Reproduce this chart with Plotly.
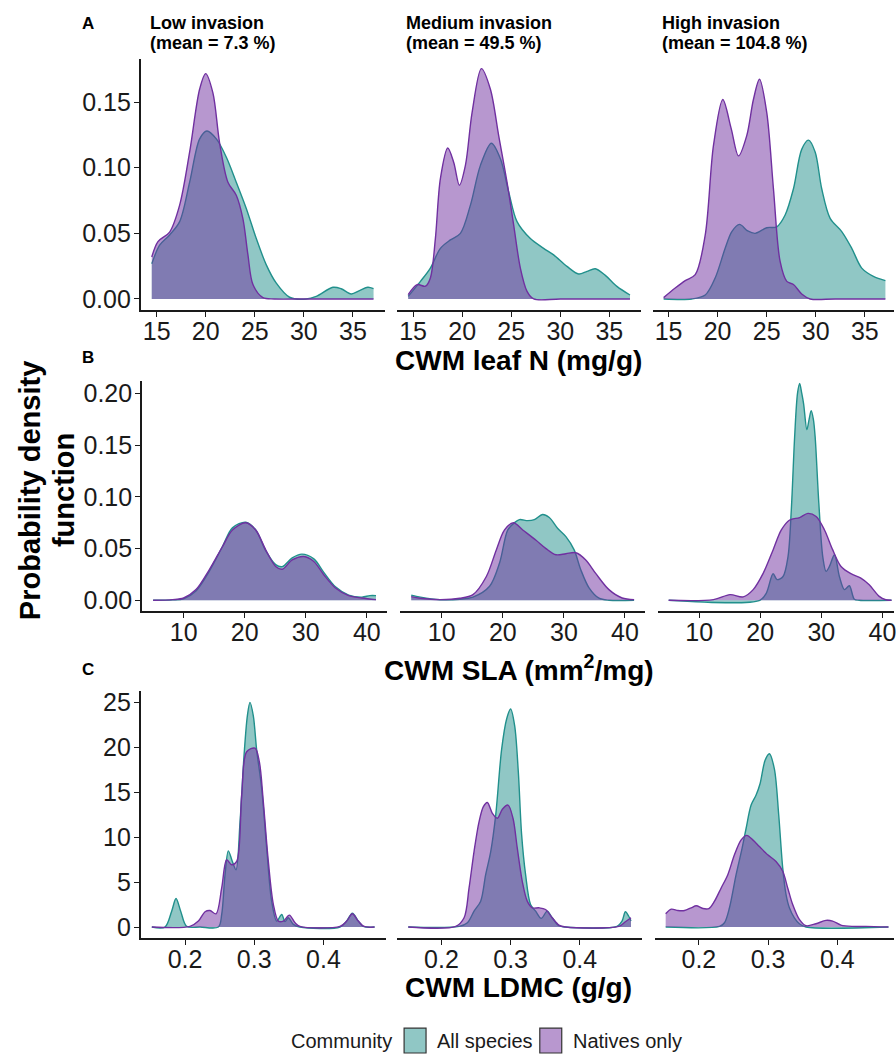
import plotly.graph_objects as go

# ---------------- DATA ----------------
# Row A: CWM leaf N (mg/g)
leafn_low_all_x = [14.5, 15.3, 16.32, 17.34, 18.36, 19.38, 20.12, 21.08, 22.1, 23.11, 24.13, 25.15, 26.17, 27.19, 28.54, 30.24, 31.26, 32.96, 33.8, 34.83, 35.67, 36.52, 37.1]
leafn_low_all_y = [0.0268, 0.041, 0.0488, 0.0589, 0.089, 0.122, 0.128, 0.122, 0.108, 0.089, 0.069, 0.046, 0.026, 0.012, 0.0013, 0.0, 0.002, 0.0089, 0.0078, 0.0038, 0.0064, 0.0089, 0.0078]
leafn_low_nat_x = [14.5, 15.13, 16.32, 17.34, 18.36, 19.38, 19.99, 20.73, 21.41, 22.26, 23.11, 23.79, 24.3, 24.81, 25.83, 27.0, 30.0, 37.1]
leafn_low_nat_y = [0.032, 0.0437, 0.051, 0.0715, 0.112, 0.160, 0.1717, 0.157, 0.119, 0.089, 0.079, 0.061, 0.0336, 0.011, 0.001, 0.0, 0.0, 0.0]

leafn_med_all_x = [14.5, 15.75, 16.76, 17.78, 18.8, 19.82, 20.84, 21.86, 22.98, 23.89, 24.74, 25.59, 26.95, 28.3, 29.32, 30.68, 31.87, 32.72, 33.57, 34.59, 35.77, 37.1]
leafn_med_all_y = [0.002, 0.0134, 0.0235, 0.0386, 0.045, 0.05, 0.0715, 0.1018, 0.1187, 0.107, 0.0816, 0.0589, 0.046, 0.0386, 0.0336, 0.0248, 0.019, 0.021, 0.023, 0.018, 0.0096, 0.003]
leafn_med_nat_x = [14.5, 15.41, 16.26, 16.76, 17.27, 17.78, 18.53, 19.14, 19.72, 20.33, 21.01, 21.96, 22.87, 23.72, 24.57, 25.25, 25.93, 26.61, 27.29, 30.0, 37.1]
leafn_med_nat_y = [0.0033, 0.0109, 0.0097, 0.016, 0.046, 0.0917, 0.115, 0.104, 0.0867, 0.1018, 0.142, 0.1755, 0.16, 0.1245, 0.089, 0.0563, 0.0235, 0.0058, 0.0, 0.0, 0.0]

leafn_high_all_x = [14.5, 17.37, 18.74, 19.75, 20.77, 21.45, 22.23, 23.07, 23.83, 25.01, 26.03, 26.88, 27.73, 28.57, 29.26, 29.94, 30.61, 31.47, 32.65, 33.67, 34.69, 35.88, 37.1]
leafn_high_all_y = [0.0, 0.0, 0.003, 0.016, 0.0386, 0.0513, 0.0568, 0.0518, 0.05, 0.0543, 0.055, 0.064, 0.084, 0.114, 0.121, 0.112, 0.084, 0.0614, 0.0513, 0.0386, 0.0235, 0.0172, 0.014]
leafn_high_nat_x = [14.5, 15.68, 16.7, 17.72, 18.74, 19.58, 20.53, 21.38, 22.13, 22.97, 23.65, 24.27, 25.01, 25.69, 26.37, 27.05, 27.73, 28.57, 29.43, 32.0, 37.1]
leafn_high_nat_y = [0.001, 0.0083, 0.014, 0.0185, 0.0488, 0.117, 0.152, 0.13, 0.109, 0.1245, 0.152, 0.1674, 0.142, 0.084, 0.0286, 0.0134, 0.011, 0.0038, 0.0, 0.0, 0.0]

# Row B: CWM SLA (mm2/mg)
sla_low_all_x = [5.0, 8.2, 10.0, 12.02, 14.19, 16.36, 17.99, 20.18, 21.81, 23.44, 25.07, 26.15, 27.78, 29.36, 31.32, 32.95, 34.86, 37.03, 39.2, 40.5, 41.5]
sla_low_all_y = [0.0, 0.0004, 0.0015, 0.009, 0.028, 0.052, 0.070, 0.0755, 0.068, 0.048, 0.0345, 0.0325, 0.041, 0.0446, 0.040, 0.027, 0.013, 0.005, 0.003, 0.0045, 0.0045]
sla_low_nat_x = [5.0, 8.2, 10.0, 12.02, 14.19, 16.36, 17.99, 20.18, 21.81, 23.44, 25.07, 26.15, 27.78, 29.69, 31.32, 32.95, 34.86, 37.03, 39.2, 41.5]
sla_low_nat_y = [0.0, 0.0006, 0.0022, 0.0103, 0.0295, 0.052, 0.068, 0.075, 0.068, 0.0488, 0.0327, 0.030, 0.039, 0.0423, 0.0375, 0.0247, 0.0119, 0.0045, 0.0022, 0.0006]

sla_med_all_x = [5.0, 6.5, 9.69, 12.95, 15.11, 17.83, 19.46, 20.81, 21.9, 22.72, 24.07, 25.16, 26.51, 27.61, 28.96, 30.33, 31.68, 32.77, 34.12, 35.75, 37.4, 41.5]
sla_med_all_y = [0.005, 0.003, 0.0005, 0.001, 0.003, 0.0135, 0.036, 0.068, 0.075, 0.078, 0.077, 0.078, 0.083, 0.080, 0.0696, 0.0615, 0.0487, 0.0295, 0.012, 0.002, 0.0, 0.0]
sla_med_nat_x = [5.0, 6.5, 9.69, 12.95, 15.11, 17.3, 18.93, 20.28, 21.74, 23.26, 25.44, 27.07, 28.7, 30.33, 31.95, 33.58, 35.21, 37.38, 39.54, 41.5]
sla_med_nat_y = [0.0035, 0.002, 0.0006, 0.0019, 0.0055, 0.023, 0.0487, 0.068, 0.075, 0.068, 0.058, 0.050, 0.044, 0.045, 0.046, 0.039, 0.026, 0.0103, 0.0022, 0.0006]

sla_high_all_x = [5.0, 19.93, 21.0, 22.1, 22.75, 23.73, 24.54, 25.08, 25.63, 26.1, 26.45, 26.8, 27.1, 27.64, 28.0, 28.34, 28.7, 28.99, 29.59, 30.24, 30.78, 31.33, 32.15, 32.96, 33.78, 34.59, 35.41, 36.2, 41.5]
sla_high_all_y = [0.0, 0.0, 0.007, 0.0257, 0.02, 0.023, 0.042, 0.087, 0.158, 0.200, 0.2096, 0.200, 0.19, 0.165, 0.175, 0.1834, 0.175, 0.158, 0.094, 0.042, 0.028, 0.0327, 0.044, 0.023, 0.0103, 0.014, 0.001, 0.0, 0.0]
sla_high_nat_x = [5.0, 12.33, 15.05, 17.21, 18.84, 20.47, 22.1, 23.45, 24.82, 26.45, 27.8, 29.15, 30.52, 31.87, 33.23, 34.85, 36.48, 37.85, 39.48, 40.55, 41.5]
sla_high_nat_y = [0.0, 0.0006, 0.0055, 0.0033, 0.0103, 0.026, 0.0487, 0.068, 0.0776, 0.080, 0.084, 0.081, 0.068, 0.0487, 0.0327, 0.0257, 0.0215, 0.015, 0.0038, 0.0005, 0.0]

# Row C: CWM LDMC (g/g)
ldmc_low_all_x = [0.152, 0.171, 0.1807, 0.187, 0.1937, 0.2024, 0.2217, 0.2482, 0.253, 0.2578, 0.2626, 0.2684, 0.2737, 0.2795, 0.2853, 0.2901, 0.2939, 0.2987, 0.3036, 0.3108, 0.318, 0.3252, 0.3325, 0.3397, 0.3445, 0.3493, 0.3566, 0.366, 0.424, 0.4336, 0.4418, 0.4505, 0.4577, 0.474]
ldmc_low_all_y = [0, 0, 1.77, 3.17, 1.77, 0.07, 0, 0, 1.4, 5.83, 8.48, 7.3, 6.38, 11.7, 19.1, 23.5, 25.0, 23.5, 19.65, 15.4, 8.78, 2.88, 0.66, 1.4, 0.6, 1.03, 0.3, 0, 0, 0.66, 1.55, 0.66, 0.07, 0]
ldmc_low_nat_x = [0.152, 0.2072, 0.2193, 0.2289, 0.2361, 0.2448, 0.253, 0.2602, 0.2674, 0.2747, 0.2819, 0.2891, 0.3012, 0.3074, 0.3132, 0.3204, 0.3277, 0.3349, 0.3421, 0.3508, 0.359, 0.366, 0.424, 0.4336, 0.4418, 0.4505, 0.4587, 0.474]
ldmc_low_nat_y = [0, 0.07, 0.66, 1.7, 1.84, 1.47, 4.35, 7.49, 6.93, 7.3, 14.7, 19.5, 19.9, 18.4, 13.9, 7.3, 2.5, 0.66, 0.66, 1.33, 0.48, 0.07, 0.07, 0.66, 1.47, 0.66, 0.07, 0]

ldmc_med_all_x = [0.152, 0.2255, 0.2375, 0.2471, 0.2567, 0.2639, 0.2712, 0.2784, 0.287, 0.2942, 0.3, 0.3058, 0.3111, 0.3159, 0.3216, 0.3288, 0.3361, 0.3442, 0.3529, 0.3601, 0.3697, 0.3793, 0.4538, 0.461, 0.4659, 0.4707, 0.474]
ldmc_med_all_y = [0, 0.07, 0.48, 1.77, 2.88, 5.83, 8.4, 12.46, 19.8, 23.15, 24.26, 22.4, 17.26, 10.25, 5.83, 2.5, 1.77, 0.96, 1.77, 1.03, 0.15, 0, 0.07, 0.66, 1.7, 1.2, 0.66]
ldmc_med_nat_x = [0.152, 0.2207, 0.2327, 0.2399, 0.2471, 0.2543, 0.2606, 0.2663, 0.2736, 0.2808, 0.288, 0.2962, 0.3034, 0.3096, 0.3168, 0.324, 0.3313, 0.3409, 0.3505, 0.3601, 0.3697, 0.3793, 0.4563, 0.4659, 0.474]
ldmc_med_nat_y = [0, 0.07, 1.03, 4.35, 8.4, 11.7, 13.4, 13.86, 12.65, 12.1, 13.1, 13.57, 12.1, 8.78, 5.09, 2.88, 2.14, 2.14, 1.95, 1.03, 0.22, 0, 0.07, 0.59, 1.03]

ldmc_high_all_x = [0.152, 0.2298, 0.237, 0.2442, 0.2538, 0.2625, 0.2683, 0.2755, 0.2827, 0.2885, 0.2957, 0.3019, 0.3091, 0.3154, 0.3212, 0.326, 0.3308, 0.338, 0.3452, 0.3548, 0.474]
ldmc_high_all_y = [0, 0.07, 0.48, 2.14, 5.83, 8.78, 10.99, 13.57, 14.68, 15.97, 18.55, 19.28, 17.6, 12.46, 6.56, 3.6, 2.14, 1.03, 0.37, 0, 0]
ldmc_high_nat_x = [0.152, 0.1601, 0.1697, 0.1793, 0.1889, 0.1962, 0.2058, 0.2144, 0.2226, 0.2322, 0.2418, 0.2514, 0.2611, 0.2692, 0.2779, 0.2875, 0.2995, 0.3115, 0.3212, 0.3284, 0.3356, 0.3452, 0.3548, 0.3692, 0.3837, 0.3933, 0.4053, 0.4221, 0.4413, 0.474]
ldmc_high_nat_y = [1.47, 1.99, 1.84, 1.84, 2.14, 2.36, 2.06, 2.06, 2.88, 4.35, 5.83, 8.04, 9.7, 10.2, 9.7, 8.96, 8.04, 7.3, 6.2, 4.35, 2.5, 0.85, 0.15, 0.37, 0.74, 0.66, 0.22, 0.07, 0.07, 0]

# labels
column_titles = ["Low invasion", "Medium invasion", "High invasion"]
column_means = ["(mean = 7.3 %)", "(mean = 49.5 %)", "(mean = 104.8 %)"]
row_letters = ["A", "B", "C"]
row_titles = ["CWM leaf N (mg/g)", "CWM SLA (mm<sup>2</sup>/mg)", "CWM LDMC (g/g)"]
series_names = ["All species", "Natives only"]
legend_title = "Community"
leafn_ticks = [15, 20, 25, 30, 35]
sla_ticks = [10, 20, 30, 40]
ldmc_ticks = [0.2, 0.3, 0.4]
leafn_yticks = [0, 0.05, 0.10, 0.15]
sla_yticks = [0, 0.05, 0.10, 0.15, 0.20]
ldmc_yticks = [0, 5, 10, 15, 20, 25]

# ---------------- STYLE / LAYOUT ----------------
W, H = 896, 1058
FONT = "Liberation Sans, Arial, Helvetica, sans-serif"
TXT = "#1a1a1a"
TEAL_LINE, TEAL_FILL = "#21908C", "rgba(33,144,140,0.5)"
PURP_LINE, PURP_FILL = "#7030A0", "rgba(112,48,160,0.5)"
TEAL_KEY, PURP_KEY = "#90C7C5", "#B897CF"

rows = [
    dict(panels=[(leafn_low_all_x, leafn_low_all_y, leafn_low_nat_x, leafn_low_nat_y),
                 (leafn_med_all_x, leafn_med_all_y, leafn_med_nat_x, leafn_med_nat_y),
                 (leafn_high_all_x, leafn_high_all_y, leafn_high_nat_x, leafn_high_nat_y)],
         top=56, bot=309, yrange=[-0.0086, 0.1831], starts=[141, 398, 654], width=244.5,
         xticks=leafn_ticks, xfmt="d", yticks=leafn_yticks, yfmt=".2f",
         letter_y=21, title_y=360),
    dict(panels=[(sla_low_all_x, sla_low_all_y, sla_low_nat_x, sla_low_nat_y),
                 (sla_med_all_x, sla_med_all_y, sla_med_nat_x, sla_med_nat_y),
                 (sla_high_all_x, sla_high_all_y, sla_high_nat_x, sla_high_nat_y)],
         top=380, bot=611.7, yrange=[-0.0106, 0.2122], starts=[142.3, 401, 659], width=245.7,
         xticks=sla_ticks, xfmt="d", yticks=sla_yticks, yfmt=".2f",
         letter_y=357, title_y=669),
    dict(panels=[(ldmc_low_all_x, ldmc_low_all_y, ldmc_low_nat_x, ldmc_low_nat_y),
                 (ldmc_med_all_x, ldmc_med_all_y, ldmc_med_nat_x, ldmc_med_nat_y),
                 (ldmc_high_all_x, ldmc_high_all_y, ldmc_high_nat_x, ldmc_high_nat_y)],
         top=692.3, bot=940.7, yrange=[-1.26, 26.22], starts=[141, 398, 656], width=245.6,
         xticks=ldmc_ticks, xfmt=".1f", yticks=ldmc_yticks, yfmt="d",
         letter_y=670, title_y=990),
]

fig = go.Figure()
layout = {}
annotations = []
shapes = []

def px(x):
    return x / W

def py(y):
    return 1 - y / H

for r, row in enumerate(rows):
    allx = [v for p in row["panels"] for arr in (p[0], p[2]) for v in arr]
    lo, hi = min(allx), max(allx)
    pad = 0.05 * (hi - lo)
    full = [lo - pad, hi + pad]
    for c, (ax_x, ax_y, nt_x, nt_y) in enumerate(row["panels"]):
        k = r * 3 + c + 1
        sfx = "" if k == 1 else str(k)
        start = row["starts"][c]
        end = start + row["width"]
        rng = list(full)
        if end > W:
            frac = (W - start) / row["width"]
            rng = [full[0], full[0] + (full[1] - full[0]) * frac]
            end = W
        for xs, ys, lc, fc, nm in ((ax_x, ax_y, TEAL_LINE, TEAL_FILL, series_names[0]),
                                    (nt_x, nt_y, PURP_LINE, PURP_FILL, series_names[1])):
            fig.add_trace(go.Scatter(
                x=xs, y=ys, xaxis="x" + sfx, yaxis="y" + sfx, mode="lines", name=nm,
                line=dict(color=lc, width=1.4, shape="spline", smoothing=0.9),
                fill="tozeroy", fillcolor=fc, showlegend=False, hoverinfo="skip"))
        layout["xaxis" + sfx] = dict(
            domain=[px(start), px(end)], range=rng, anchor="y" + sfx,
            showline=True, linecolor=TXT, linewidth=1.6, mirror=False,
            ticks="outside", ticklen=5, tickwidth=1.4, tickcolor=TXT,
            tickvals=row["xticks"], tickformat=row["xfmt"],
            tickfont=dict(size=25, color=TXT, family=FONT), ticklabelstandoff=-7,
            showgrid=False, zeroline=False, ticklabeloverflow="allow", fixedrange=True)
        ydict = dict(domain=[py(row["bot"]), py(row["top"])], range=row["yrange"],
                     anchor="x" + sfx, showgrid=False, zeroline=False, fixedrange=True)
        if c == 0:
            ydict.update(showline=True, linecolor=TXT, linewidth=1.6, ticks="outside",
                         ticklen=5, tickwidth=1.4, tickcolor=TXT,
                         tickvals=row["yticks"], tickformat=row["yfmt"],
                         tickfont=dict(size=25, color=TXT, family=FONT),
                         ticklabelstandoff=-2)
        else:
            ydict.update(showline=False, showticklabels=False, ticks="")
        layout["yaxis" + sfx] = ydict
    # panel letter
    annotations.append(dict(text="<b>%s</b>" % row_letters[r], x=px(88), y=py(row["letter_y"]),
                            xref="paper", yref="paper", showarrow=False,
                            xanchor="center", yanchor="middle",
                            font=dict(size=17, color="black", family=FONT)))
    # x-axis title
    annotations.append(dict(text="<b>%s</b>" % row_titles[r], x=px(520), y=py(row["title_y"]),
                            xref="paper", yref="paper", showarrow=False,
                            xanchor="center", yanchor="middle",
                            font=dict(size=28, color="black", family=FONT)))

# column titles
col_title_x = [148, 404.5, 661]
for c in range(3):
    annotations.append(dict(text="<b>%s</b>" % column_titles[c], x=px(col_title_x[c]), y=py(20),
                            xref="paper", yref="paper", showarrow=False,
                            xanchor="left", yanchor="middle",
                            font=dict(size=18, color="black", family=FONT)))
    annotations.append(dict(text="<b>%s</b>" % column_means[c], x=px(col_title_x[c]), y=py(40),
                            xref="paper", yref="paper", showarrow=False,
                            xanchor="left", yanchor="middle",
                            font=dict(size=18, color="black", family=FONT)))

# y-axis title (two lines)
for txt, xx in (("Probability density", 30), ("function", 64)):
    annotations.append(dict(text="<b>%s</b>" % txt, x=px(xx), y=py(490), textangle=-90,
                            xref="paper", yref="paper", showarrow=False,
                            xanchor="center", yanchor="middle",
                            font=dict(size=29, color="black", family=FONT)))

# legend (manual, ggplot style)
annotations.append(dict(text=legend_title, x=px(290), y=py(1044), xref="paper", yref="paper",
                        showarrow=False, xanchor="left", yanchor="middle",
                        font=dict(size=20, color=TXT, family=FONT)))
for (x0, tx, col, nm) in ((405, 436, TEAL_KEY, series_names[0]), (541, 572, PURP_KEY, series_names[1])):
    shapes.append(dict(type="rect", xref="paper", yref="paper",
                       x0=px(x0), x1=px(x0 + 22), y0=py(1056), y1=py(1031),
                       fillcolor=col, line=dict(color="#333333", width=1.2)))
    annotations.append(dict(text=nm, x=px(tx), y=py(1044), xref="paper", yref="paper",
                            showarrow=False, xanchor="left", yanchor="middle",
                            font=dict(size=20, color=TXT, family=FONT)))

fig.update_layout(
    width=W, height=H, margin=dict(l=0, r=0, t=0, b=0, pad=0),
    paper_bgcolor="white", plot_bgcolor="white",
    font=dict(family=FONT, color=TXT),
    annotations=annotations, shapes=shapes, showlegend=False,
    **layout)

fig.write_html("out.html", config={"displayModeBar": False},
               post_script="document.body.style.margin='0px';")
